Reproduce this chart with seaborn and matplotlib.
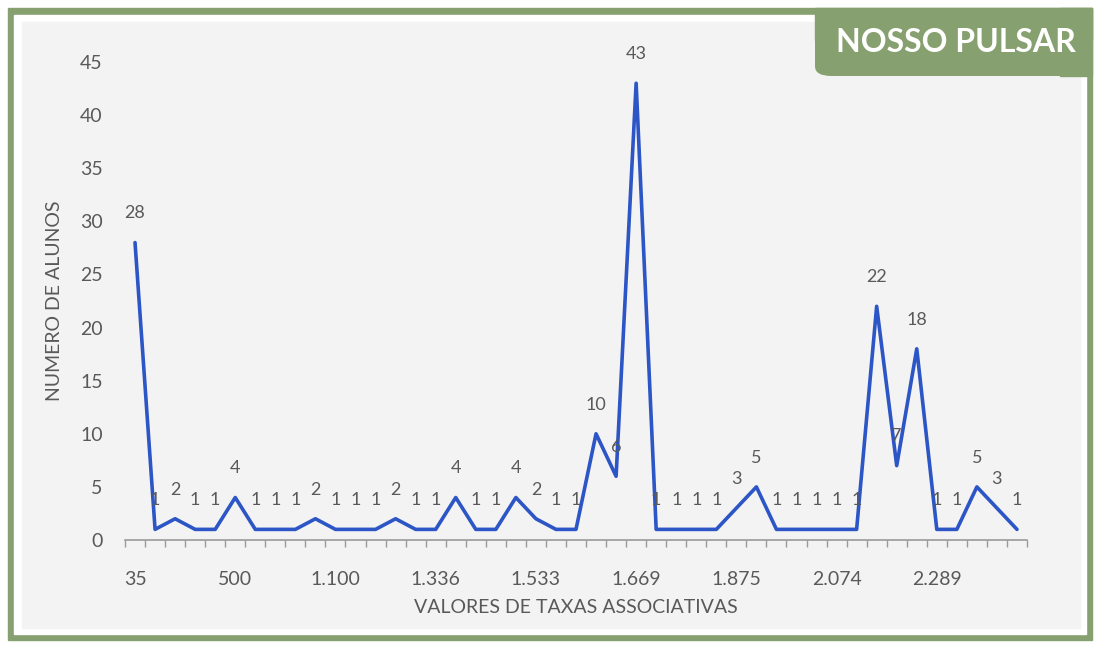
import matplotlib
matplotlib.use("Agg")
import numpy as np
import pandas as pd
import seaborn as sns
import matplotlib.pyplot as plt
from matplotlib.patches import Rectangle, FancyBboxPatch

sns.set_theme(style="white")
plt.rcParams['font.family'] = ['Lato', 'DejaVu Sans']

# number of students per associative-rate value (45 categories)
alunos = [28, 1, 2, 1, 1, 4, 1, 1, 1, 2,
          1, 1, 1, 2, 1, 1, 4, 1, 1, 4,
          2, 1, 1, 10, 6, 43, 1, 1, 1, 1,
          3, 5, 1, 1, 1, 1, 1, 22, 7, 18,
          1, 1, 5, 3, 1]
# only every 5th category is labelled on the axis
tick_labels = ["35", "500", "1.100", "1.336", "1.533", "1.669", "1.875", "2.074", "2.289"]

GREEN = "#87a06f"
BLUE = "#2c55c6"
GRAY_TXT = "#595959"

df = pd.DataFrame({"pos": np.arange(len(alunos)), "alunos": alunos})

fig = plt.figure(figsize=(11, 6.47), dpi=100)
W, H = 1100, 647

def px_rect(x0, y0, x1, y1, color):
    fig.patches.append(Rectangle((x0 / W, 1 - y1 / H), (x1 - x0) / W, (y1 - y0) / H,
                                 transform=fig.transFigure, color=color, zorder=-10))

# framed card
px_rect(8, 8, 1092, 640, GREEN)
px_rect(14, 15, 1086, 634, "white")
px_rect(22, 22, 1080, 628, "#f3f3f3")

ax = fig.add_axes([125 / W, 1 - 540 / H, (1027 - 125) / W, (540 - 62) / H])
ax.set_facecolor("none")

sns.lineplot(data=df, x="pos", y="alunos", ax=ax, color=BLUE, linewidth=2.6)

for x, y in zip(df["pos"], df["alunos"]):
    ax.annotate(str(y), (x, y), xytext=(0, 21), textcoords="offset points",
                ha="center", va="center", fontsize=13, color=GRAY_TXT, clip_on=False)

ax.set_xlim(-0.5, len(alunos) - 0.5)
ax.set_ylim(0, 45)
ax.set_yticks(range(0, 46, 5))
ax.set_xticks(np.arange(0, len(alunos), 5))
ax.set_xticklabels(tick_labels)
ax.set_xticks(np.arange(-0.5, len(alunos), 1), minor=True)
ax.tick_params(axis="x", which="major", length=0, labelsize=14, colors=GRAY_TXT, pad=22)
ax.tick_params(axis="x", which="minor", length=5, width=1, color="#9a9a9a", bottom=True)
ax.tick_params(axis="y", length=0, labelsize=14, colors=GRAY_TXT, pad=16)

for s in ["top", "right", "left"]:
    ax.spines[s].set_visible(False)
ax.spines["bottom"].set_color("#9a9a9a")
ax.spines["bottom"].set_linewidth(1.2)

ax.set_xlabel("VALORES DE TAXAS ASSOCIATIVAS", fontsize=14, color=GRAY_TXT, labelpad=8)
ax.set_ylabel("NUMERO DE ALUNOS", fontsize=14, color=GRAY_TXT, labelpad=12)

# badge top-right
badge = FancyBboxPatch((815 / W, 1 - 76 / H), (1092 - 815) / W, (76 - 8) / H,
                       boxstyle="round,pad=0,rounding_size=0.015",
                       transform=fig.transFigure, facecolor=GREEN, edgecolor="none", zorder=5)
fig.patches.append(badge)
px_rect(815, 8, 1092, 40, GREEN)
px_rect(1060, 8, 1092, 76, GREEN)
fig.text(956 / W, 1 - 43 / H, "NOSSO PULSAR", ha="center", va="center",
         color="white", fontsize=23, fontweight="bold", zorder=6)

fig.savefig("out.png", dpi=100)
